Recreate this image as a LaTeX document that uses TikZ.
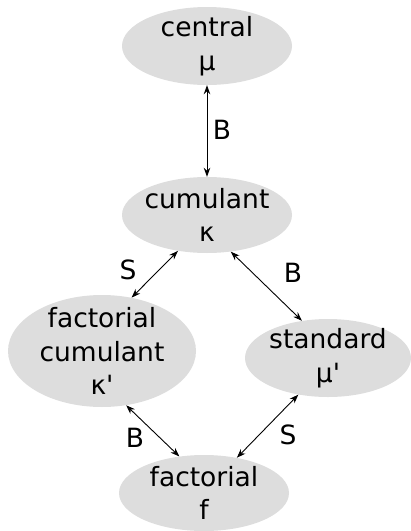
\documentclass[tikz,border=0pt]{standalone}
\usepackage{fontspec}
\setmainfont{DejaVu Sans}
\usetikzlibrary{shapes.geometric,arrows.meta}
\definecolor{momgray}{RGB}{221,221,221}

\tikzset{
  moment/.style={ellipse, fill=momgray, inner sep=0pt},
  conv/.style={{Stealth[length=9pt,width=6.5pt]}-{Stealth[length=9pt,width=6.5pt]}, line width=0.9pt},
  lbl/.style={inner sep=0pt}
}

\begin{document}
\begin{tikzpicture}[x=1pt, y=-1pt, font=\fontsize{26.5}{33.5}\selectfont]
  \useasboundingbox (0,0) rectangle (411,531);
  \node (central) [moment, minimum width=170pt, minimum height=78pt, label={[align=center]center:central\\μ}] at (207,46) {};
  \node (cumulant) [moment, minimum width=170pt, minimum height=76pt, label={[align=center]center:cumulant\\κ}] at (207,215) {};
  \node (faccum) [moment, minimum width=188pt, minimum height=112pt, label={[align=center]center:factorial\\cumulant\\κ\textquotesingle}] at (102,351) {};
  \node (standard) [moment, minimum width=166pt, minimum height=78pt, label={[align=center]center:standard\\μ\textquotesingle}] at (328,358) {};
  \node (factorial) [moment, minimum width=170pt, minimum height=76pt, label={[align=center]center:factorial\\f}] at (204,493) {};
  % edge labels
  \node (bcc) [lbl] at (222,130) {B};
  \node (sfc) [lbl] at (128,270) {S};
  \node (bst) [lbl] at (293,273) {B};
  \node (bfc) [lbl] at (135,438) {B};
  \node (sfa) [lbl] at (288,435) {S};
  \draw[conv] (central) -- (cumulant);
  \draw[conv] (cumulant.231) -- (faccum.61);
  \draw[conv] (cumulant.303) -- (standard.125);
  \draw[conv] (faccum.294) -- (factorial.124);
  \draw[conv] (standard.231) -- (factorial.47);
\end{tikzpicture}
\end{document}
